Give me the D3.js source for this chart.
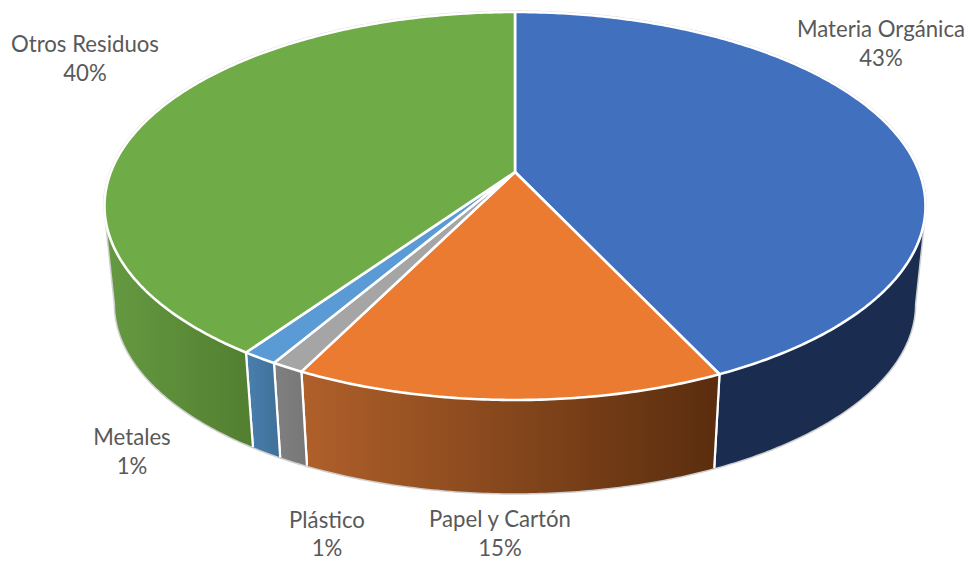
<!DOCTYPE html>
<html><head><meta charset="utf-8">
<script src="https://cdn.jsdelivr.net/npm/d3@7"></script>
<style>html,body{margin:0;padding:0;background:#fff}svg{display:block}text{font-family:Lato,"Open Sans",sans-serif;font-size:22.2px;fill:#595959;text-anchor:middle}</style>
</head><body><svg id="c" width="969" height="561"></svg>
<script>
const categories=["Materia Orgánica","Papel y Cartón","Plástico","Metales","Otros Residuos"];
const shareEstimates=[43,14.35,1.1,1.2,40.35];
const percentLabels=["43%","15%","1%","1%","40%"];
const topColors=["#4170BF","#EB7B30","#A5A5A5","#5B9BD5","#6FAB47"];
const wallLeft=["#1A2C50","#B0602A","#808080","#4A7FAD","#659A41"];
const wallRight=["#1A2C50","#5A2D0E","#777777","#3F7099","#527F30"];
const labelPos=[[881,37],[500,527],[327,528],[132,445],[85,52]];
const labelGap=[29,29,28,29,29];

const cx=515,apexY=172,rimBack=160,rimFront=228,halfWidth=410.5,
      vanishY=4000,depth=0.0259,TAU=2*Math.PI;
const k=(rimBack-rimFront)/(rimBack+rimFront);
const sxS=d3.scaleLinear().domain([-1,1]).range([cx-halfWidth*Math.sqrt(1-k*k),cx+halfWidth*Math.sqrt(1-k*k)]);
const B=rimFront*(1+k);
const syS=d3.scaleLinear().domain([-1,1]).range([apexY-B,apexY+B]);
const project=(x,y)=>{const w=1+k*y;return [sxS(x/w),syS(y/w)];};
const rimTop=a=>project(Math.sin(a),-Math.cos(a));
const drop=p=>[cx+(p[0]-cx)*(1-depth),p[1]+(vanishY-p[1])*depth];
const rimBot=a=>drop(rimTop(a));
const arcPts=(f,a0,a1)=>{const n=Math.max(2,Math.ceil(Math.abs(a1-a0)/0.01));
  return d3.range(n+1).map(i=>f(a0+(a1-a0)*i/n));};
const line=d3.line();
const svg=d3.select("#c");
const defs=svg.append("defs");
const arcs=d3.pie().sort(null)(shareEstimates);
const frontA=Math.acos(k),frontB=TAU-frontA;

// silhouette halo
svg.append("path").attr("d",line([...arcPts(rimTop,frontB,frontA+TAU),...arcPts(rimBot,frontA,frontB)])+"Z")
  .attr("fill","#fff").attr("stroke","#CFCFCF").attr("stroke-width",3).attr("stroke-linejoin","round");

// walls
arcs.forEach((d,i)=>{
  const a0=Math.max(d.startAngle,frontA),a1=Math.min(d.endAngle,frontB);
  if(a1<=a0)return;
  const T=arcPts(rimTop,a0,a1),Bt=arcPts(rimBot,a0,a1);
  const xs=[...T,...Bt].map(p=>p[0]);
  const g=defs.append("linearGradient").attr("id","w"+i).attr("gradientUnits","userSpaceOnUse")
    .attr("x1",d3.min(xs)).attr("x2",d3.max(xs)).attr("y1",0).attr("y2",0);
  g.append("stop").attr("offset",0).attr("stop-color",wallLeft[i]);
  g.append("stop").attr("offset",1).attr("stop-color",wallRight[i]);
  svg.append("path").attr("d",line([...T,...Bt.reverse()])+"Z").attr("fill",`url(#w${i})`);
  [d.startAngle,d.endAngle].forEach(a=>{ if(a>frontA&&a<frontB)
    svg.append("path").attr("d",line([rimTop(a),rimBot(a)])).attr("stroke","#fff").attr("stroke-width",2.2).attr("fill","none");});
});

// top faces
arcs.forEach((d,i)=>{
  const pts=[project(0,0),...arcPts(rimTop,d.startAngle,d.endAngle)];
  svg.append("path").attr("d",line(pts)+"Z").attr("fill",topColors[i])
    .attr("stroke","#fff").attr("stroke-width",2.6).attr("stroke-linejoin","round");
});

// labels
arcs.forEach((d,i)=>{
  const [x,y]=labelPos[i];
  svg.append("text").attr("x",x).attr("y",y).text(categories[i]);
  svg.append("text").attr("x",x).attr("y",y+labelGap[i]).text(percentLabels[i]);
});
</script></body></html>
